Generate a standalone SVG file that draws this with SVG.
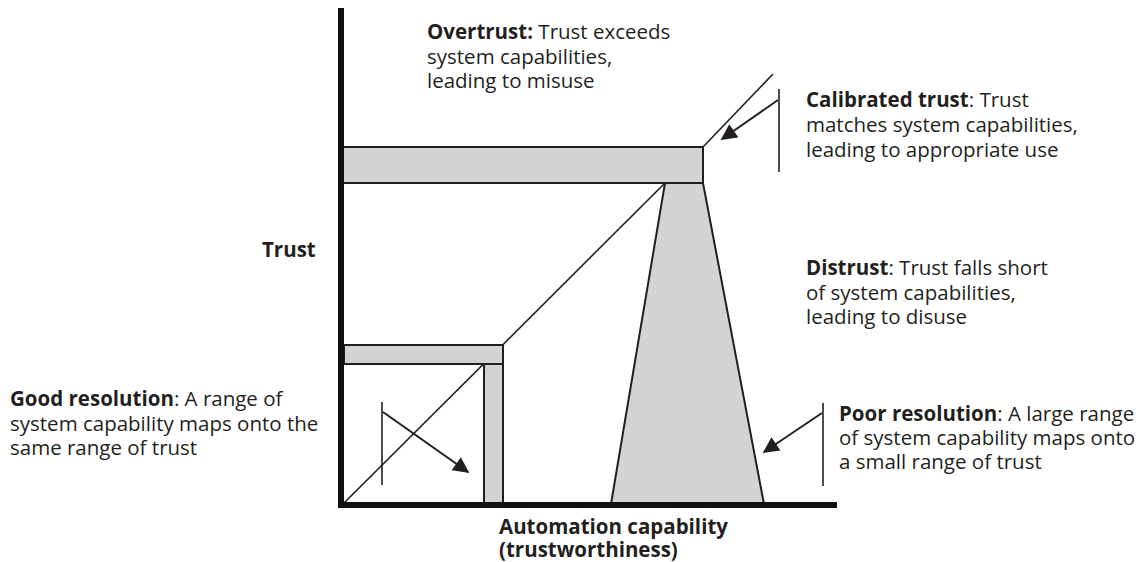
<svg xmlns="http://www.w3.org/2000/svg" width="1142" height="562" viewBox="0 0 1142 562">
  <style>
    text { font-family: "Open Sans", "Noto Sans", "DejaVu Sans", sans-serif; font-size: 20.5px; fill: #231f20; }
    .b { font-weight: 700; }
    .bar { fill: #d3d3d3; stroke: #231f20; stroke-width: 2; }
    .axis { stroke: #111; stroke-width: 6; fill: none; }
    .ln { stroke: #231f20; stroke-width: 1.6; fill: none; }
    .arr { stroke: #231f20; stroke-width: 2; fill: none; marker-end: url(#head); }
  </style>
  <defs>
    <marker id="head" viewBox="0 0 10 10" refX="9" refY="5" markerWidth="8.5" markerHeight="8" markerUnits="strokeWidth" orient="auto">
      <path d="M0,0 L10,5 L0,10 z" fill="#231f20"/>
    </marker>
  </defs>

  <rect width="1142" height="562" fill="#fff"/>

  <!-- chart geometry -->
  <g id="chart">
    <!-- distrust trapezoid -->
    <polygon id="trapezoid" class="bar" points="665,183 703,183 764,504 611,504"/>
    <!-- 45 degree calibration line -->
    <line class="ln" x1="344" y1="503" x2="665" y2="183"/>
    <!-- line beyond the top bar -->
    <line class="ln" x1="703" y1="147" x2="773" y2="74"/>
    <!-- overtrust bar -->
    <rect id="top-bar" class="bar" x="341" y="147" width="362" height="36"/>
    <!-- good resolution L bars -->
    <rect id="small-bar-h" class="bar" x="344" y="345" width="159" height="19"/>
    <rect id="small-bar-v" class="bar" x="484" y="364" width="19" height="141"/>
    <!-- axes -->
    <path class="axis" d="M341,8 V508 M338,505 H837"/>
  </g>

  <!-- label pointers -->
  <g id="connectors">
    <line class="ln" x1="779" y1="89" x2="779" y2="172"/>
    <line class="arr" x1="778" y1="100" x2="722" y2="139"/>
    <line class="ln" x1="382" y1="402" x2="382" y2="485"/>
    <line class="arr" x1="383" y1="412" x2="468" y2="472"/>
    <line class="ln" x1="823" y1="403" x2="823" y2="486"/>
    <line class="arr" x1="822" y1="413" x2="764" y2="452"/>
  </g>

  <g id="overtrust">
    <text x="427" y="39"><tspan class="b">Overtrust:</tspan> Trust exceeds</text>
    <text x="427" y="63.5">system capabilities,</text>
    <text x="427" y="88">leading to misuse</text>
  </g>

  <g id="calibrated">
    <text x="806" y="107"><tspan class="b">Calibrated trust</tspan>: Trust</text>
    <text x="806" y="132">matches system capabilities,</text>
    <text x="806" y="157">leading to appropriate use</text>
  </g>

  <g id="trust-axis-label">
    <text class="b" x="262" y="257">Trust</text>
  </g>

  <g id="distrust">
    <text x="806" y="275"><tspan class="b">Distrust</tspan>: Trust falls short</text>
    <text x="806" y="299.5">of system capabilities,</text>
    <text x="806" y="324">leading to disuse</text>
  </g>

  <g id="good-resolution">
    <text x="10" y="406"><tspan class="b">Good resolution</tspan>: A range of</text>
    <text x="10" y="430.5">system capability maps onto the</text>
    <text x="10" y="455">same range of trust</text>
  </g>

  <g id="poor-resolution">
    <text x="839" y="421"><tspan class="b">Poor resolution</tspan>: A large range</text>
    <text x="839" y="445">of system capability maps onto</text>
    <text x="839" y="469">a small range of trust</text>
  </g>

  <g id="capability-axis-label">
    <text class="b" x="499" y="534">Automation capability</text>
    <text class="b" x="499" y="557">(trustworthiness)</text>
  </g>
</svg>
